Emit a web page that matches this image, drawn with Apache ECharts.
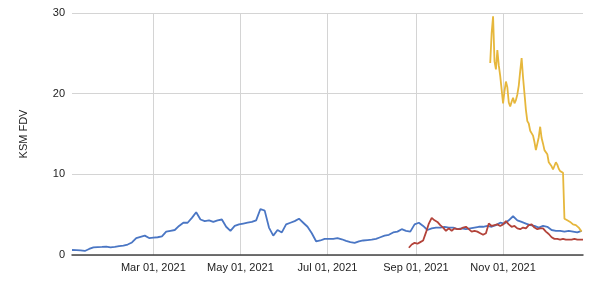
<!DOCTYPE html>
<html>
<head>
<meta charset="utf-8">
<script src="https://cdn.jsdelivr.net/npm/echarts@6/dist/echarts.min.js"></script>
<style>html,body{margin:0;padding:0;background:#fff}#c{width:600px;height:284px}</style>
</head>
<body>
<div id="c"></div>
<script>
// Blue series: every 3 days from 2021-01-03
const blueStart = '2021-01-03';
const blueStepDays = 3;
const blueValues = [0.62,0.6,0.58,0.5,0.75,0.95,0.98,1.0,1.05,0.95,1.0,1.1,1.15,1.3,1.55,2.1,2.25,2.4,2.1,2.15,
  2.2,2.3,2.9,3.0,3.1,3.6,4.0,4.0,4.6,5.3,4.4,4.2,4.3,4.1,4.3,4.4,3.5,3.0,3.6,3.8,
  3.9,4.0,4.1,4.3,5.7,5.5,3.4,2.4,3.1,2.8,3.8,4.0,4.2,4.5,4.0,3.5,2.7,1.7,1.8,2.0,
  2.0,2.0,2.1,1.95,1.75,1.6,1.5,1.7,1.8,1.85,1.9,2.0,2.2,2.4,2.5,2.8,2.9,3.2,3.0,2.9,
  3.8,4.0,3.6,3.1,3.3,3.4,3.4,3.5,3.4,3.4,3.2,3.3,3.2,3.3,3.4,3.5,3.5,3.6,3.5,3.7,
  4.0,3.9,4.3,4.8,4.3,4.1,3.9,3.7,3.6,3.4,3.6,3.5,3.1,3.0,3.0,2.9,3.0,2.9,2.8,3.0];
// Red series: every 2 days from 2021-08-27
const redStart = '2021-08-27';
const redStepDays = 2;
const redValues = [0.9,1.3,1.5,1.4,1.6,1.8,2.8,3.9,4.6,4.3,4.1,3.7,3.4,3.0,3.3,3.0,3.3,3.2,3.2,3.4,
  3.5,3.2,2.9,3.0,2.9,2.7,2.5,2.7,3.9,3.6,3.7,3.8,3.6,3.8,4.2,3.8,3.5,3.6,3.3,3.2,
  3.4,3.3,3.7,3.8,3.4,3.2,3.3,3.3,2.9,2.6,2.2,2.0,2.0,1.9,2.0,1.9,1.9,1.9,2.0,1.9,1.9,1.9];
// Yellow series: daily from 2021-10-23
const yellowStart = '2021-10-23';
const yellowStepDays = 1;
const yellowValues = [23.8,27.5,29.6,24.0,23.0,25.4,23.5,22.2,20.5,18.8,20.3,21.5,20.8,18.9,18.4,19.0,19.5,18.8,19.2,19.9,
  21.0,22.8,24.4,22.0,20.0,18.0,16.6,16.3,15.4,15.6,14.8,14.0,13.0,13.2,14.6,15.9,14.5,13.8,13.0,12.8,
  12.5,11.5,11.3,11.0,10.6,10.8,11.5,11.2,10.7,10.4,10.3,10.2,4.5,4.3,4.3,4.2,4.1,4.0,3.8,3.7,
  3.7,3.6,3.4,3.2,2.9];
const xMin = '2021-01-03';
const xMax = '2021-12-27';
const xTickDates = ['2021-03-01','2021-05-01','2021-07-01','2021-09-01','2021-11-01'];
const yTicks = [0,10,20,30];
const yName = 'KSM FDV';

const DAY = 86400000;
function toTs(s){ const p = s.split('-'); return Date.UTC(+p[0], +p[1]-1, +p[2]); }
function build(start, step, vals){ const t0 = toTs(start); return vals.map((v,i)=>[t0 + i*step*DAY, v]); }
const MONTHS = ['Jan','Feb','Mar','Apr','May','Jun','Jul','Aug','Sep','Oct','Nov','Dec'];
function fmt(ts){ const d = new Date(ts); return MONTHS[d.getUTCMonth()] + ' ' + String(d.getUTCDate()).padStart(2,'0') + ', ' + d.getUTCFullYear(); }

const chart = echarts.init(document.getElementById('c'), null, {renderer:'canvas'});
const tickTs = xTickDates.map(toTs);
chart.setOption({
  animation: false,
  backgroundColor: '#fff',
  textStyle: {fontFamily: 'Liberation Sans, Arial, sans-serif'},
  grid: {left: 72, right: 17, top: 13, bottom: 29, containLabel: false},
  xAxis: {
    type: 'value',
    min: toTs(xMin), max: toTs(xMax),
    axisLine: {show: true, lineStyle: {color: '#444', width: 1.5}},
    axisTick: {show: false, customValues: tickTs},
    axisLabel: {customValues: tickTs, formatter: v => fmt(v), color: '#222', fontSize: 11, margin: 7, fontFamily: 'Liberation Sans, Arial, sans-serif'},
    splitLine: {show: true, lineStyle: {color: '#d4d4d4', width: 1}}
  },
  yAxis: {
    type: 'value', min: yTicks[0], max: yTicks[yTicks.length-1], interval: 10,
    name: yName, nameLocation: 'middle', nameGap: 43, nameRotate: 90,
    nameTextStyle: {color: '#222', fontSize: 11, fontFamily: 'Liberation Sans, Arial, sans-serif'},
    axisLine: {show: false}, axisTick: {show: false},
    axisLabel: {color: '#222', fontSize: 11, margin: 7, fontFamily: 'Liberation Sans, Arial, sans-serif'},
    splitLine: {show: true, lineStyle: {color: '#d4d4d4', width: 1}}
  },
  series: [
    {type: 'line', data: build(blueStart, blueStepDays, blueValues), showSymbol: false, lineStyle: {color: '#4a76c4', width: 1.8}, itemStyle:{color:'#4a76c4'}, z: 3},
    {type: 'line', data: build(redStart, redStepDays, redValues), showSymbol: false, lineStyle: {color: '#b3433a', width: 1.8}, itemStyle:{color:'#b3433a'}, z: 4},
    {type: 'line', data: build(yellowStart, yellowStepDays, yellowValues), showSymbol: false, lineStyle: {color: '#e6b73c', width: 1.8}, itemStyle:{color:'#e6b73c'}, z: 5}
  ]
});
</script>
</body>
</html>
